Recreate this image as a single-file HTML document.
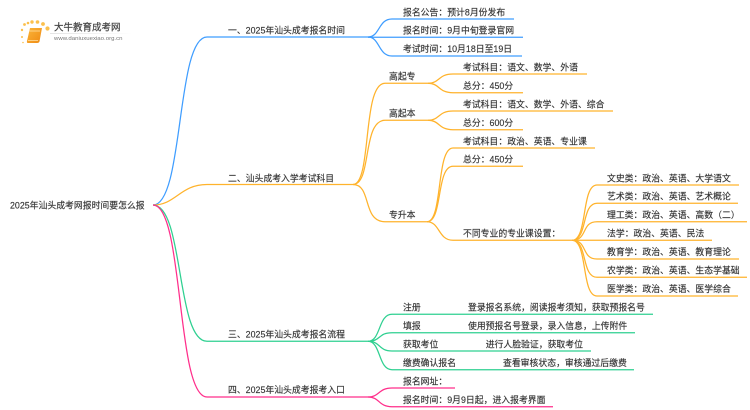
<!DOCTYPE html>
<html lang="zh"><head><meta charset="utf-8"><title>2025年汕头成考网报时间要怎么报</title>
<style>
html,body{margin:0;padding:0;background:#fff;width:750px;height:410px;overflow:hidden}
svg{display:block}
text{font-family:"Liberation Sans","Noto Sans CJK SC",sans-serif;font-size:8.85px;fill:#333;stroke:#333;stroke-width:.14}
tspan.c{font-family:"Noto Sans CJK TC",sans-serif}
path{fill:none;stroke-width:1.25}
.b path{stroke:#3f9dff}.o path{stroke:#ffb32c}.g path{stroke:#2fd091}.p path{stroke:#ff2f8b}
</style></head><body>
<svg width="750" height="410" viewBox="0 0 750 410" xmlns="http://www.w3.org/2000/svg">
<defs><linearGradient id="u" x1="0" x2="1" y1="0" y2="0"><stop offset="0" stop-color="#ddd"/><stop offset="1" stop-color="#fff"/></linearGradient>
<linearGradient id="bk" x1="0" x2="1" y1="0" y2="1"><stop offset="0" stop-color="#fbb53a"/><stop offset="1" stop-color="#ef8a12"/></linearGradient></defs>
<!-- logo -->
<g fill="#fbc04d"><circle cx="22" cy="30" r="1.2"/><circle cx="24.5" cy="24.5" r="1.4"/><circle cx="28" cy="23" r="1.3"/><circle cx="32" cy="22" r="1.7"/><circle cx="37.5" cy="22" r="1.8"/><circle cx="43" cy="24" r="1.9"/><circle cx="47.5" cy="28.5" r="2.1"/><circle cx="22" cy="37" r="1"/><circle cx="23" cy="42.5" r=".8"/></g>
<path d="M30 28H42L39.5 41.5Q39 43 37 43H28Q26.5 43 27 41Z" style="fill:url(#bk);stroke:none"/>
<path d="M29.5 31H40M28 40.5H38" style="stroke:#ffe2a8;stroke-width:.7"/>
<rect x="50" y="33" width="83" height=".8" fill="url(#u)"/>
<text x="54" y="30.5" style="font-size:9.5px;fill:#444;stroke:#444;stroke-width:.2">大牛教育成考网</text>
<text x="54" y="40" textLength="68.5" lengthAdjust="spacingAndGlyphs" style="font-size:5.5px;fill:#777;stroke:none">www.daniuxuexiao.org.cn</text>

<g class="b">
<path d="M153 205C184 205 176 37 207 37H368"/>
<path d="M368 37C380 37 378 19 392 19H514"/>
<path d="M368 37.3H523"/>
<path d="M368 37C380 37 378 56 392 56H522"/>
</g>
<g class="o">
<path d="M153 205C176 205 180 184.5 207 184.5H353"/>
<path d="M353 184.5C372 184.5 362 83.3 385 83.3H428"/>
<path d="M428 83.3C440 83.3 438 74 453 74H587"/>
<path d="M428 83.3C440 83.3 438 92.7 453 92.7H523"/>
<path d="M353 184.5C372 184.5 362 120.3 385 120.3H428"/>
<path d="M428 120.3C440 120.3 438 111 453 111H613"/>
<path d="M428 120.3C440 120.3 438 129.7 453 129.7H523"/>
<path d="M353 184.5C372 184.5 362 221.7 385 221.7H427"/>
<path d="M427 221.7C443 221.7 436 148 453 148H595"/>
<path d="M427 221.7C443 221.7 436 166.3 453 166.3H523"/>
<path d="M427 221.7C440 221.7 438 240.3 453 240.3H572"/>
<path d="M572 240.3C588 240.3 581 185 597 185H739"/>
<path d="M572 240.3C588 240.3 581 203.3 597 203.3H738"/>
<path d="M572 240.3C588 240.3 581 221.7 597 221.7H747"/>
<path d="M572 240.3H712"/>
<path d="M572 240.3C588 240.3 581 259 597 259H739"/>
<path d="M572 240.3C588 240.3 581 277.3 597 277.3H747"/>
<path d="M572 240.3C588 240.3 581 296 597 296H738"/>
</g>
<g class="g">
<path d="M153 205C184 205 176 341.3 207 341.3H368"/>
<path d="M368 341.3C381 341.3 378 314.3 392 314.3H653"/>
<path d="M368 341.3C381 341.3 378 332.7 392 332.7H635"/>
<path d="M368 341.3C381 341.3 378 351 392 351H591"/>
<path d="M368 341.3C381 341.3 378 369.7 392 369.7H634"/>
</g>
<g class="p">
<path d="M153 205C184 205 176 397 207 397H368"/>
<path d="M368 397C380 397 378 388 392 388H455"/>
<path d="M368 397C380 397 378 406.7 392 406.7H553"/>
</g>

<text x="10" y="208.5">2025年汕头成考网报时间要怎么报</text>
<text x="228" y="33.5">一、2025年汕头成考报名时间</text>
<text x="228" y="181.5">二、汕头成考入学考试科目</text>
<text x="228" y="337.5">三、2025年汕头成考报名流程</text>
<text x="228" y="393">四、2025年汕头成考报考入口</text>

<text x="403" y="15.5">报名公告<tspan class="c">：</tspan>预计8月份发布</text>
<text x="403" y="33.5">报名时间<tspan class="c">：</tspan>9月中旬登录官网</text>
<text x="403" y="52">考试时间<tspan class="c">：</tspan>10月18日至19日</text>

<text x="389" y="79.5">高起专</text>
<text x="389" y="116.5">高起本</text>
<text x="389" y="218">专升本</text>

<text x="463" y="70.5">考试科目<tspan class="c">：</tspan>语文、数学、外语</text>
<text x="463" y="89">总分<tspan class="c">：</tspan>450分</text>
<text x="463" y="107.5">考试科目<tspan class="c">：</tspan>语文、数学、外语、综合</text>
<text x="463" y="126">总分<tspan class="c">：</tspan>600分</text>
<text x="463" y="144.5">考试科目<tspan class="c">：</tspan>政治、英语、专业课</text>
<text x="463" y="162.5">总分<tspan class="c">：</tspan>450分</text>
<text x="463" y="236.5">不同专业的专业课设置<tspan class="c">：</tspan></text>

<text x="607" y="181.5">文史类<tspan class="c">：</tspan>政治、英语、大学语文</text>
<text x="607" y="199.5">艺术类<tspan class="c">：</tspan>政治、英语、艺术概论</text>
<text x="607" y="218">理工类<tspan class="c">：</tspan>政治、英语、高数<tspan class="c">（</tspan>二<tspan class="c">）</tspan></text>
<text x="607" y="236.5">法学<tspan class="c">：</tspan>政治、英语、民法</text>
<text x="607" y="255">教育学<tspan class="c">：</tspan>政治、英语、教育理论</text>
<text x="607" y="273.5">农学类<tspan class="c">：</tspan>政治、英语、生态学基础</text>
<text x="607" y="292">医学类<tspan class="c">：</tspan>政治、英语、医学综合</text>

<text x="403" y="310.5">注册</text>
<text x="403" y="329">填报</text>
<text x="403" y="347.5">获取考位</text>
<text x="403" y="366">缴费确认报名</text>
<text x="468" y="310.5">登录报名系统<tspan class="c">，</tspan>阅读报考须知<tspan class="c">，</tspan>获取预报名号</text>
<text x="468" y="329">使用预报名号登录<tspan class="c">，</tspan>录入信息<tspan class="c">，</tspan>上传附件</text>
<text x="485.7" y="347.5">进行人脸验证<tspan class="c">，</tspan>获取考位</text>
<text x="503" y="366">查看审核状态<tspan class="c">，</tspan>审核通过后缴费</text>

<text x="403" y="384.5">报名网址<tspan class="c">：</tspan></text>
<text x="403" y="403">报名时间<tspan class="c">：</tspan>9月9日起<tspan class="c">，</tspan>进入报考界面</text>
</svg>
</body></html>
